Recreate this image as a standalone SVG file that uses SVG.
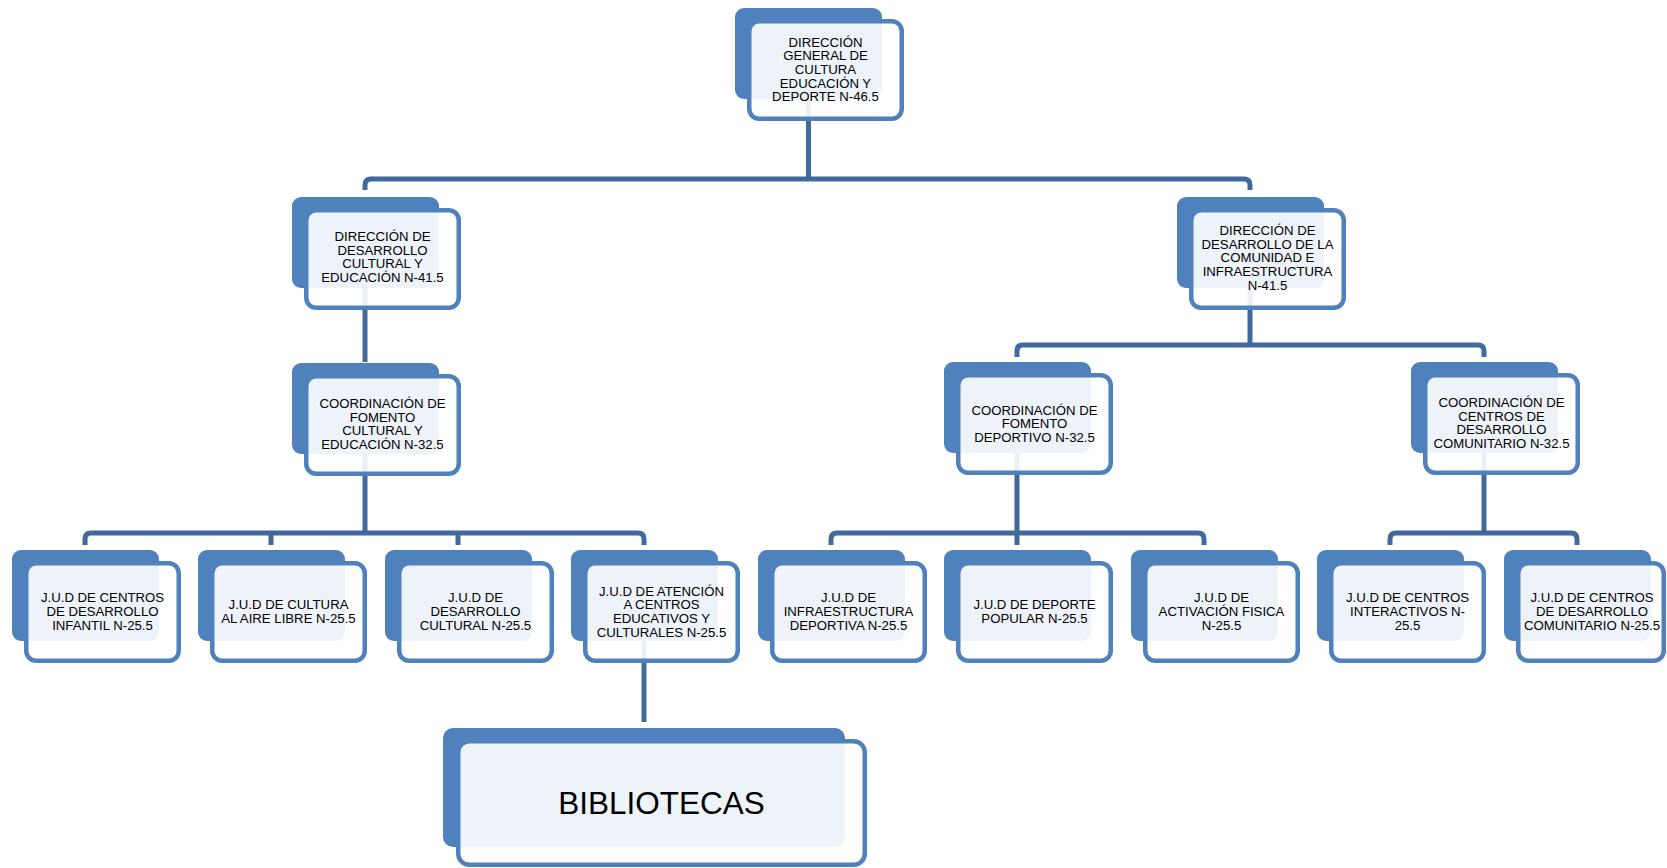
<svg xmlns="http://www.w3.org/2000/svg" width="1667" height="868" viewBox="0 0 1667 868">
<style>
.bk{fill:#4F81BD}
.fr{fill:#FFFFFF;fill-opacity:0.9;stroke:#4F81BD;stroke-width:4.5}
.t{font-family:"Liberation Sans",Arial,sans-serif;font-size:13.2px;fill:#000;text-anchor:middle}
.tb{font-family:"Liberation Sans",Arial,sans-serif;font-size:31.5px;fill:#000;text-anchor:middle}
.c{fill:none;stroke:#41699C;stroke-width:5;stroke-linejoin:round}
</style>
<rect width="1667" height="868" fill="#FFFFFF"/>
<g id="connectors">
<path class="c" d="M808.5 90 V179"/>
<path class="c" d="M365 190 V185 Q365 179 371 179 H1244 Q1250 179 1250 185 V190"/>
<path class="c" d="M365 280 V362"/>
<path class="c" d="M1250 280 V345"/>
<path class="c" d="M1017 357 V351 Q1017 345 1023 345 H1478 Q1484 345 1484 351 V357"/>
<path class="c" d="M365 440 V533"/>
<path class="c" d="M85 545 V539 Q85 533 91 533 H638 Q644 533 644 539 V545"/>
<path class="c" d="M271 533 V545 M458 533 V545"/>
<path class="c" d="M1017 440 V545"/>
<path class="c" d="M831 545 V539 Q831 533 837 533 H1198 Q1204 533 1204 539 V545"/>
<path class="c" d="M1484 440 V533"/>
<path class="c" d="M1390 545 V539 Q1390 533 1396 533 H1571 Q1577 533 1577 539 V545"/>
<path class="c" d="M644 640 V722"/>
</g>
<g id="n-top">
<rect class="bk" x="735" y="8" width="147" height="91" rx="9"/>
<rect class="fr" x="749.25" y="21.25" width="152.5" height="97.5" rx="10"/>
<text class="t"><tspan x="825.5" y="46.5">DIRECCIÓN</tspan><tspan x="825.5" y="60.2">GENERAL DE</tspan><tspan x="825.5" y="73.9">CULTURA</tspan><tspan x="825.5" y="87.6">EDUCACIÓN Y</tspan><tspan x="825.5" y="101.3">DEPORTE N-46.5</tspan></text>
</g>
<g id="n-dir-cultural">
<rect class="bk" x="292" y="197" width="147" height="91" rx="9"/>
<rect class="fr" x="306.25" y="210.25" width="152.5" height="97.5" rx="10"/>
<text class="t"><tspan x="382.5" y="241">DIRECCIÓN DE</tspan><tspan x="382.5" y="254.7">DESARROLLO</tspan><tspan x="382.5" y="268.4">CULTURAL Y</tspan><tspan x="382.5" y="282.1">EDUCACIÓN N-41.5</tspan></text>
</g>
<g id="n-dir-comunidad">
<rect class="bk" x="1177" y="197" width="147" height="91" rx="9"/>
<rect class="fr" x="1191.25" y="210.25" width="152.5" height="97.5" rx="10"/>
<text class="t"><tspan x="1267.5" y="235">DIRECCIÓN DE</tspan><tspan x="1267.5" y="248.7">DESARROLLO DE LA</tspan><tspan x="1267.5" y="262.4">COMUNIDAD E</tspan><tspan x="1267.5" y="276.1">INFRAESTRUCTURA</tspan><tspan x="1267.5" y="289.8">N-41.5</tspan></text>
</g>
<g id="n-coord-cultural">
<rect class="bk" x="292" y="363" width="147" height="91" rx="9"/>
<rect class="fr" x="306.25" y="376.25" width="152.5" height="97.5" rx="10"/>
<text class="t"><tspan x="382.5" y="408">COORDINACIÓN DE</tspan><tspan x="382.5" y="421.7">FOMENTO</tspan><tspan x="382.5" y="435.4">CULTURAL Y</tspan><tspan x="382.5" y="449.1">EDUCACIÓN N-32.5</tspan></text>
</g>
<g id="n-coord-deportivo">
<rect class="bk" x="944" y="362" width="147" height="91" rx="9"/>
<rect class="fr" x="958.25" y="375.25" width="152.5" height="97.5" rx="10"/>
<text class="t"><tspan x="1034.5" y="414.5">COORDINACIÓN DE</tspan><tspan x="1034.5" y="428.2">FOMENTO</tspan><tspan x="1034.5" y="441.9">DEPORTIVO N-32.5</tspan></text>
</g>
<g id="n-coord-comunitario">
<rect class="bk" x="1411" y="362" width="147" height="91" rx="9"/>
<rect class="fr" x="1425.25" y="375.25" width="152.5" height="97.5" rx="10"/>
<text class="t"><tspan x="1501.5" y="407">COORDINACIÓN DE</tspan><tspan x="1501.5" y="420.7">CENTROS DE</tspan><tspan x="1501.5" y="434.4">DESARROLLO</tspan><tspan x="1501.5" y="448.1">COMUNITARIO N-32.5</tspan></text>
</g>
<g id="n-jud1">
<rect class="bk" x="12" y="550" width="147" height="91" rx="9"/>
<rect class="fr" x="26.25" y="563.25" width="152.5" height="97.5" rx="10"/>
<text class="t"><tspan x="102.5" y="602.3">J.U.D DE CENTROS</tspan><tspan x="102.5" y="616">DE DESARROLLO</tspan><tspan x="102.5" y="629.7">INFANTIL N-25.5</tspan></text>
</g>
<g id="n-jud2">
<rect class="bk" x="198" y="550" width="147" height="91" rx="9"/>
<rect class="fr" x="212.25" y="563.25" width="152.5" height="97.5" rx="10"/>
<text class="t"><tspan x="288.5" y="609.2">J.U.D DE CULTURA</tspan><tspan x="288.5" y="622.9">AL AIRE LIBRE N-25.5</tspan></text>
</g>
<g id="n-jud3">
<rect class="bk" x="385" y="550" width="147" height="91" rx="9"/>
<rect class="fr" x="399.25" y="563.25" width="152.5" height="97.5" rx="10"/>
<text class="t"><tspan x="475.5" y="602.3">J.U.D DE</tspan><tspan x="475.5" y="616">DESARROLLO</tspan><tspan x="475.5" y="629.7">CULTURAL N-25.5</tspan></text>
</g>
<g id="n-jud4">
<rect class="bk" x="571" y="550" width="147" height="91" rx="9"/>
<rect class="fr" x="585.25" y="563.25" width="152.5" height="97.5" rx="10"/>
<text class="t"><tspan x="661.5" y="595.5">J.U.D DE ATENCIÓN</tspan><tspan x="661.5" y="609.2">A CENTROS</tspan><tspan x="661.5" y="622.9">EDUCATIVOS Y</tspan><tspan x="661.5" y="636.6">CULTURALES N-25.5</tspan></text>
</g>
<g id="n-jud5">
<rect class="bk" x="758" y="550" width="147" height="91" rx="9"/>
<rect class="fr" x="772.25" y="563.25" width="152.5" height="97.5" rx="10"/>
<text class="t"><tspan x="848.5" y="602.3">J.U.D DE</tspan><tspan x="848.5" y="616">INFRAESTRUCTURA</tspan><tspan x="848.5" y="629.7">DEPORTIVA N-25.5</tspan></text>
</g>
<g id="n-jud6">
<rect class="bk" x="944" y="550" width="147" height="91" rx="9"/>
<rect class="fr" x="958.25" y="563.25" width="152.5" height="97.5" rx="10"/>
<text class="t"><tspan x="1034.5" y="609.2">J.U.D DE DEPORTE</tspan><tspan x="1034.5" y="622.9">POPULAR N-25.5</tspan></text>
</g>
<g id="n-jud7">
<rect class="bk" x="1131" y="550" width="147" height="91" rx="9"/>
<rect class="fr" x="1145.25" y="563.25" width="152.5" height="97.5" rx="10"/>
<text class="t"><tspan x="1221.5" y="602.3">J.U.D DE</tspan><tspan x="1221.5" y="616">ACTIVACIÓN FISICA</tspan><tspan x="1221.5" y="629.7">N-25.5</tspan></text>
</g>
<g id="n-jud8">
<rect class="bk" x="1317" y="550" width="147" height="91" rx="9"/>
<rect class="fr" x="1331.25" y="563.25" width="152.5" height="97.5" rx="10"/>
<text class="t"><tspan x="1407.5" y="602.3">J.U.D DE CENTROS</tspan><tspan x="1407.5" y="616">INTERACTIVOS N-</tspan><tspan x="1407.5" y="629.7">25.5</tspan></text>
</g>
<g id="n-jud9">
<rect class="bk" x="1504" y="550" width="147" height="91" rx="9"/>
<rect class="fr" x="1518.25" y="563.25" width="145.5" height="97.5" rx="10"/>
<text class="t"><tspan x="1592" y="602.3">J.U.D DE CENTROS</tspan><tspan x="1592" y="616">DE DESARROLLO</tspan><tspan x="1592" y="629.7">COMUNITARIO N-25.5</tspan></text>
</g>
<g id="n-bibliotecas">
<rect class="bk" x="443" y="728" width="402" height="119" rx="10"/>
<rect class="fr" x="458.25" y="741.25" width="406.5" height="123.5" rx="11"/>
<text class="tb" x="661.5" y="814">BIBLIOTECAS</text>
</g>
</svg>
